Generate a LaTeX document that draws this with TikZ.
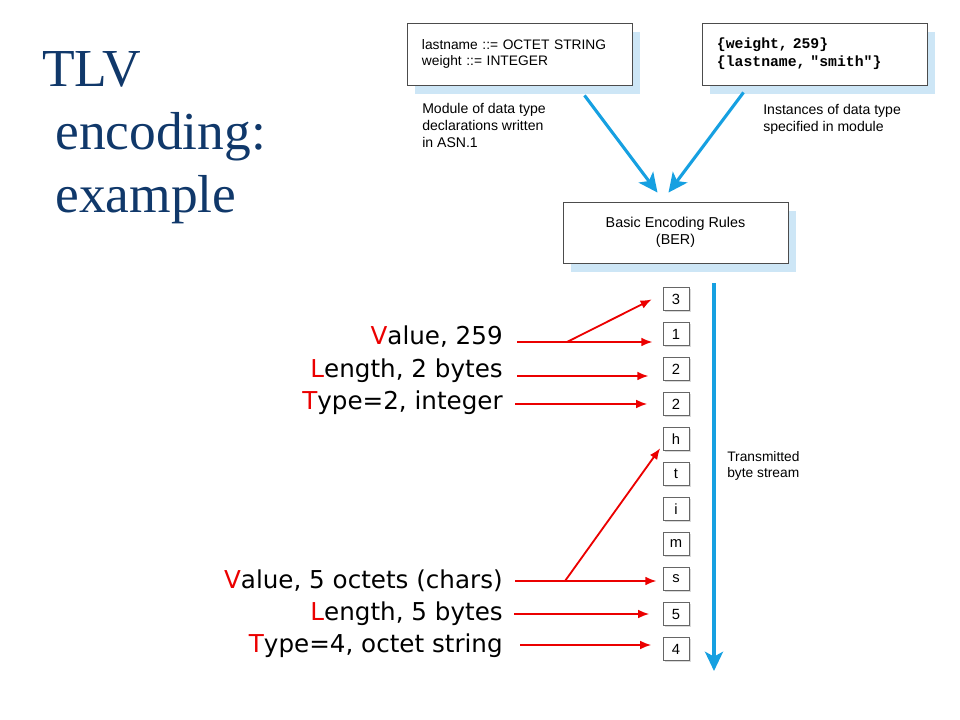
\documentclass[tikz,border=0pt]{standalone}
\usepackage{fontspec}
\setmainfont{Liberation Serif}
\setsansfont{Liberation Sans}
\setmonofont{Liberation Mono}
\newfontfamily\handfont{DejaVu Sans}
\usetikzlibrary{calc}
\usetikzlibrary{arrows.meta}
\usetikzlibrary{shadows}

\definecolor{titleblue}{RGB}{16,56,106}
\definecolor{streamblue}{RGB}{22,160,225}
\definecolor{shadeblue}{RGB}{205,230,246}
\definecolor{tagred}{RGB}{235,0,0}

\begin{document}
\begin{tikzpicture}[x=0.025cm, y=-0.025cm,
    declbox/.style={draw=black!70, fill=white, line width=0.6pt,
      minimum width=5.625cm, minimum height=1.55cm,
      drop shadow={opacity=1, fill=shadeblue,
        shadow xshift=0.2cm, shadow yshift=-0.22cm}},
    caption/.style={font=\sffamily\fontsize{10}{12}\selectfont,
      align=left, inner sep=0pt},
    bytebox/.style={draw=black!60, line width=0.7pt, fill=white,
      minimum width=0.65cm, minimum height=0.575cm, inner sep=0pt,
      font=\sffamily\fontsize{10.5}{12}\selectfont,
      drop shadow={opacity=1, fill=black!15,
        shadow xshift=0.04cm, shadow yshift=-0.04cm}},
    tlvlabel/.style={font=\handfont\fontsize{17.5}{20}\selectfont,
      anchor=base east, inner sep=0pt},
    flow/.style={streamblue, line width=2.2pt,
      -{Stealth[length=0.48cm, width=0.45cm, inset=0.12cm]}},
    pointer/.style={tagred, line width=1.3pt,
      -{Latex[length=0.28cm, width=0.22cm]}},
    title/.style={titleblue, font=\fontsize{38}{45}\selectfont,
      anchor=base west, inner sep=0pt}]
    \useasboundingbox (0,0) rectangle (960,720);

    \newcommand{\tlvtag}[2]{\textcolor{tagred}{#1}#2}

    % title
    \node[title] (t1) at (42,87) {TLV};
    \node[title] (t2) at (55,150) {encoding:};
    \node[title] (t3) at (55,213) {example};

    % modules
    \node[declbox, align=left, text width=4.875cm, inner xsep=0.375cm,
      font=\sffamily\fontsize{9.8}{12}\selectfont] (asn) at (519.5,54)
      {lastname ::= OCTET STRING\\weight ::= INTEGER};
    \node[declbox, align=left, text width=4.875cm, inner xsep=0.35cm,
      font=\ttfamily\bfseries\fontsize{10.5}{13}\selectfont] (inst) at (814.5,54)
      {\{weight, 259\}\\\{lastname, "smith"\}};
    \node[caption, anchor=north west] (asncap) at (422,103)
      {Module of data type\\declarations written\\in ASN.1};
    \node[caption, anchor=north west] (instcap) at (763,104)
      {Instances of data type\\specified in module};

    \node[declbox, align=center, minimum height=1.525cm,
      font=\sffamily\fontsize{10.2}{12}\selectfont] (ber) at (675.5,232.5)
      {Basic Encoding Rules\\(BER)};

    \draw[flow] ($(asn.south)+(65,10)$) -- ($(ber.north)+(-18,-9)$);
    \draw[flow] ($(inst.south)+(-71,7)$) -- ($(ber.north)+(-7,-9)$);

    % byte stream
    \foreach \ch [count=\i] in {3,1,2,2,h,t,i,m,s,5,4}
      \node[bytebox] (b\i) at (676,{299+35*(\i-1)}) {\ch};
    \draw[flow, line width=2.4pt] ($(b1.north)+(38,-4)$) -- ($(b11.south)+(38,10)$);
    \node[caption, anchor=north west,
      font=\sffamily\fontsize{9.8}{11.5}\selectfont] (streamcap) at (727,451)
      {Transmitted\\byte stream};

    % integer weight
    \node[tlvlabel] (lv1) at (503,345) {\tlvtag{V}{alue, 259}};
    \node[tlvlabel] (ll1) at (503,378) {\tlvtag{L}{ength, 2 bytes}};
    \node[tlvlabel] (lt1) at (503,410) {\tlvtag{T}{ype=2, integer}};
    \coordinate (sv1) at (517,342);
    \coordinate (jv1) at (567,342);
    \coordinate (sl1) at (517,376);
    \coordinate (st1) at (515,404);
    \draw[tagred, line width=1.3pt] (sv1) -- (jv1);
    \draw[pointer, shorten >=0.25cm] (jv1) -- (jv1 -| b2.west);
    \draw[pointer, shorten >=0.3cm] (jv1) -- ($(b1.west)+(0,-5)$);
    \draw[pointer, shorten >=0.35cm] (sl1) -- (sl1 -| b3.west);
    \draw[pointer, shorten >=0.38cm] (st1) -- (st1 -| b4.west);

    % octet string lastname
    \node[tlvlabel] (lv2) at (503,588) {\tlvtag{V}{alue, 5 octets (chars)}};
    \node[tlvlabel] (ll2) at (503,620) {\tlvtag{L}{ength, 5 bytes}};
    \node[tlvlabel] (lt2) at (503,652) {\tlvtag{T}{ype=4, octet string}};
    \coordinate (sv2) at (515,581);
    \coordinate (jv2) at (565,581);
    \coordinate (sl2) at (514,614);
    \coordinate (st2) at (520,645);
    \draw[tagred, line width=1.3pt] (sv2) -- (jv2);
    \draw[pointer, shorten >=0.15cm] (jv2) -- (jv2 -| b9.west);
    \draw[pointer, shorten >=0.1cm] (jv2) -- ($(b5.south west)+(0,-6)$);
    \draw[pointer, shorten >=0.33cm] (sl2) -- (sl2 -| b10.west);
    \draw[pointer, shorten >=0.28cm] (st2) -- (st2 -| b11.west);
\end{tikzpicture}
\end{document}
